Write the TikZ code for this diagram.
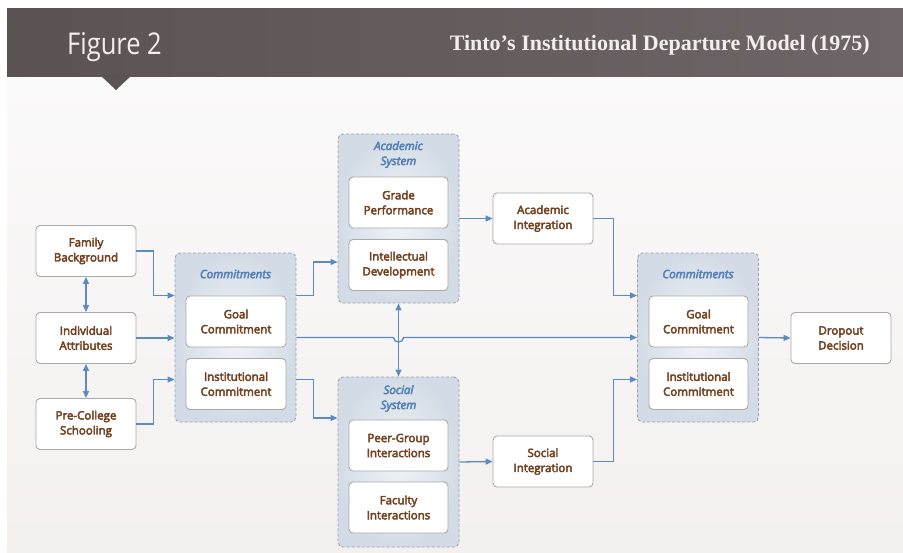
\documentclass[tikz,border=0pt]{standalone}
\usepackage{fontspec}
\usetikzlibrary{arrows.meta,calc}
\newfontfamily\boxfont[FakeBold=4]{Open Sans}
\newfontfamily\figfont{Open Sans}
\newfontfamily\titlefont{Liberation Serif}
\definecolor{hdrL}{HTML}{5B5253}
\definecolor{hdrR}{HTML}{6D6567}
\definecolor{boxline}{HTML}{A9A9A9}
\definecolor{txtbrown}{HTML}{744422}
\definecolor{grpline}{HTML}{9AA3AD}
\definecolor{grpin}{HTML}{F1F4F7}
\definecolor{grpout}{HTML}{D3DCE6}
\definecolor{grpblue}{HTML}{5580B6}
\definecolor{arrblue}{HTML}{5D8AC2}
\definecolor{bgtop}{HTML}{FBFAFA}
\definecolor{bgbot}{HTML}{F3F0EF}
\definecolor{titlewhite}{HTML}{F3EFEE}
\begin{document}
\begin{tikzpicture}[x=1pt,y=-1pt,
  box/.style={draw=boxline, fill=white, rounded corners=4pt, line width=0.9pt,
    minimum width=100pt, minimum height=51pt, align=center, text=txtbrown,
    font=\boxfont\fontsize{11.5}{15}\selectfont, inner sep=2pt},
  grp/.style={draw=grpline, dash pattern=on 3pt off 2pt, rounded corners=5pt,
    line width=0.9pt, inner color=grpin, outer color=grpout, minimum width=121pt},
  grptitle/.style={text=grpblue, font=\boxfont\itshape\fontsize{11.5}{15}\selectfont, align=center},
  arr/.style={draw=arrblue, line width=1.3pt, -{Triangle[length=7pt,width=6pt]}},
  darr/.style={draw=arrblue, line width=1.3pt, {Triangle[length=7pt,width=6pt]}-{Triangle[length=7pt,width=6pt]}}]
\useasboundingbox (0,0) rectangle (903,552);
% background
\fill[white] (0,0) rectangle (903,552);
\shade[top color=bgtop, bottom color=bgbot] (7,76) rectangle (903,552);
\shade[left color=hdrL, right color=hdrR] (7,8) rectangle (903,76);
\fill[hdrL] (100,75) -- (132,75) -- (116,90) -- cycle;
\node[anchor=base west, inner sep=0, text=titlewhite,
  font=\figfont\fontsize{30}{30}\selectfont] (fig) at (67,54) {\scalebox{0.85}[1]{Figure 2}};
\node[anchor=base east, inner sep=0, text=titlewhite,
  font=\titlefont\bfseries\fontsize{22}{22}\selectfont] (ttl) at (870,50) {Tinto’s Institutional Departure Model (1975)};
% groups
\node[grp, minimum height=169pt] (lgrp) at (235.5,337.5) {};
\node[grp, minimum height=169pt] (agrp) at (398.5,218.5) {};
\node[grp, minimum height=170pt] (sgrp) at (398.5,462) {};
\node[grp, minimum height=169pt] (rgrp) at (698,337.5) {};
\node[grptitle] (lt) at (235.5,274) {Commitments};
\node[grptitle] (at) at (398.5,154.5) {Academic\\System};
\node[grptitle] (st) at (398.5,398.5) {Social\\System};
\node[grptitle] (rt) at (698,274) {Commitments};
% boxes
\node[box] (fam) at (86,251) {Family\\Background};
\node[box] (ind) at (86,338) {Individual\\Attributes};
\node[box] (pre) at (86,424) {Pre-College\\Schooling};
\node[box] (lgoal) at (236,321.5) {Goal\\Commitment};
\node[box] (linst) at (236,384) {Institutional\\Commitment};
\node[box, minimum width=99pt] (grade) at (398.5,202.5) {Grade\\Performance};
\node[box, minimum width=99pt] (intel) at (398.5,265) {Intellectual\\Development};
\node[box] (aint) at (543,218.5) {Academic\\Integration};
\node[box, minimum width=99pt] (peer) at (398.5,445.5) {Peer-Group\\Interactions};
\node[box, minimum width=99pt] (fac) at (398.5,507.5) {Faculty\\Interactions};
\node[box] (sint) at (543,461.5) {Social\\Integration};
\node[box, minimum width=99pt] (rgoal) at (698.5,321.5) {Goal\\Commitment};
\node[box, minimum width=99pt] (rinst) at (698.5,384) {Institutional\\Commitment};
\node[box] (drop) at (841,338) {Dropout\\Decision};
% connectors
\draw[darr] (fam.south) -- (ind.north);
\draw[darr] (ind.south) -- (pre.north);
\draw[arr] (fam.east) -- ++(17,0) |- ($(lgrp.west)+(0,-42)$);
\draw[arr] (ind.east) -- (lgrp.west |- ind.east);
\draw[arr] (pre.east) -- ++(17,0) |- ($(lgrp.west)+(0,42)$);
\draw[arr] ($(lgrp.east)+(0,-42)$) -- ++(17,0) |- ($(agrp.west)+(0,43.5)$);
\draw[arr] ($(lgrp.east)+(0,42)$) -- ++(17,0) |- ($(sgrp.west)+(0,-44)$);
\draw[arr] (agrp.east) -- (aint.west);
\draw[arr] (sgrp.east) -- (sint.west);
\draw[arr] (aint.east) -- ++(20,0) |- ($(rgrp.west)+(0,-42)$);
\draw[arr] (sint.east) -- ++(20,0) |- ($(rgrp.west)+(0,42)$);
\draw[darr] (agrp.south) -- (sgrp.north);
\coordinate (hop) at (agrp.south |- lgrp.east);
\draw[arr] (lgrp.east) -- ($(hop)+(-5,0)$) .. controls ($(hop)+(-5,6)$) and ($(hop)+(5,6)$) .. ($(hop)+(5,0)$) -- (rgrp.west);
\draw[arr] (rgrp.east) -- (drop.west);
\end{tikzpicture}
\end{document}
